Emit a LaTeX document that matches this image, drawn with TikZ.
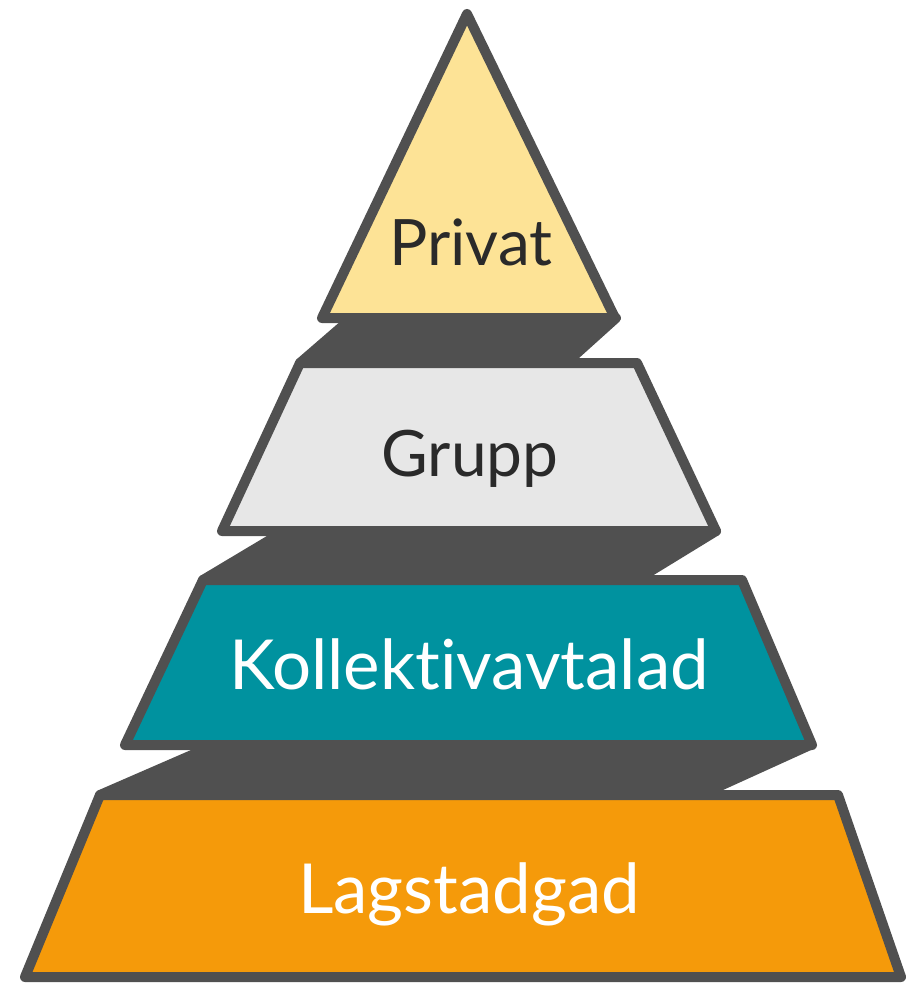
\documentclass[tikz,border=0pt]{standalone}
\usepackage{fontspec}
\setmainfont{Lato}[Ligatures=NoCommon]
\definecolor{edge}{HTML}{505050}
\definecolor{cPriv}{HTML}{FDE396}
\definecolor{cGrupp}{HTML}{E7E7E7}
\definecolor{cKoll}{HTML}{00929F}
\definecolor{cLag}{HTML}{F59A0A}
\definecolor{tdark}{HTML}{2A2A2A}
\begin{document}
\begin{tikzpicture}[x=1pt,y=-1pt,
  level/.style={draw=edge,line width=10pt,line join=round},
  band/.style={fill=edge,draw=edge,line width=10pt,line join=round},
  lbl/.style={inner sep=0pt,anchor=base},
  darklbl/.style={lbl,text=tdark,font=\fontsize{64}{64}\selectfont},
  whitelbl/.style={lbl,text=white,font=\fontsize{69}{69}\selectfont}]
\useasboundingbox (0,0) rectangle (906,984);
% bands
\draw[band] (352,318) -- (616,318) -- (566,363) -- (300,363) -- cycle;
\draw[band] (285,531) -- (716,531) -- (636,580) -- (203,580) -- cycle;
\draw[band] (215,745) -- (810,745) -- (700,795) -- (100,795) -- cycle;
% levels
\draw[level,fill=cPriv] (467,14) -- (615,318) -- (322,318) -- cycle;
\draw[level,fill=cGrupp] (300,363) -- (637,363) -- (716,531) -- (222,531) -- cycle;
\draw[level,fill=cKoll] (203,580) -- (742,580) -- (812,745) -- (125,745) -- cycle;
\draw[level,fill=cLag] (100,795) -- (838,795) -- (901,977) -- (25,977) -- cycle;
% labels
\node[darklbl] (privat) at (471,265) {Privat};
\node[darklbl] (grupp) at (470,476) {Grupp};
\node[whitelbl] (koll) at (469,689) {Kollektivavtalad};
\node[whitelbl] (lag) at (469,913) {Lagstadgad};
\end{tikzpicture}
\end{document}
